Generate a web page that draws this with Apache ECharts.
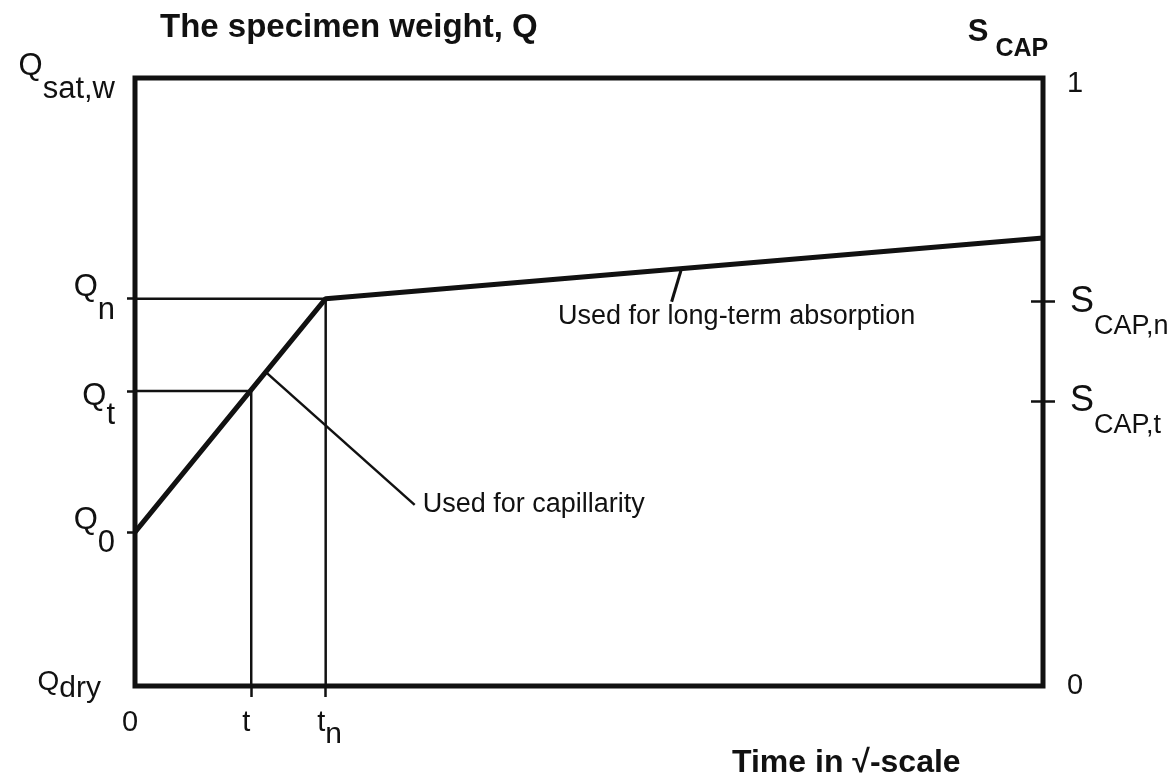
<!DOCTYPE html>
<html>
<head>
<meta charset="utf-8">
<script src="https://cdn.jsdelivr.net/npm/echarts@6/dist/echarts.min.js"></script>
<style>
html, body { margin: 0; padding: 0; background: #fff; }
#chart { width: 1175px; height: 781px; }
</style>
</head>
<body>
<div id="chart"></div>
<script>
// time axis (sqrt scale), 0..100
var timeTicks = [0, 12.8, 21.0];
var timeNames = ['0', 't', 'tn'];
// left axis: specimen weight Q
var weightTicks = [0, 25.3, 48.5, 63.7, 100];
var weightNames = ['dry', '0', 't', 'n', 'sat,w'];
// right axis: S_CAP
var capTicks = [0, 46.9, 63.2, 100];
var capNames = ['0', 't', 'n', '1'];

// curves
var absorption = [[0, 25.3], [21.0, 63.7], [100, 73.7]];
var guideN = [[0, 63.7], [21.0, 63.7], [21.0, 0]];
var guideT = [[0, 48.5], [12.8, 48.5], [12.8, 0]];
var capLeader = [[14.5, 51.5], [30.8, 29.8]];
var longLeader = [[60.2, 68.7], [59.1, 63.2]];

var FONT = 'Liberation Sans, Arial, Helvetica, sans-serif';
var INK = '#111';

function pick(ticks, names, v) {
  var best = 0;
  for (var i = 1; i < ticks.length; i++) {
    if (Math.abs(ticks[i] - v) < Math.abs(ticks[best] - v)) best = i;
  }
  return names[best];
}

function leaderData(points, label) {
  return points.map(function (p, i) {
    if (i < points.length - 1) return p;
    return { value: p, label: label };
  });
}

var myChart = echarts.init(document.getElementById('chart'));

var option = {
  animation: false,
  backgroundColor: '#fff',
  textStyle: { fontFamily: FONT, color: INK },
  title: [{
    text: 'The specimen weight, Q',
    left: 155,
    top: 6,
    textStyle: { fontFamily: FONT, fontSize: 33, fontWeight: 'bold', color: INK }
  }, {
    text: 'Time in \u221A-scale',
    left: 727,
    top: 742,
    textStyle: { fontFamily: FONT, fontSize: 32, fontWeight: 'bold', color: INK }
  }],
  grid: {
    left: 135, right: 132, top: 78, bottom: 95,
    show: true,
    borderColor: INK,
    borderWidth: 5,
    outerBoundsMode: 'none'
  },
  xAxis: {
    type: 'value',
    min: 0, max: 100,
    axisLine: { show: false },
    splitLine: { show: false },
    axisTick: {
      show: true,
      customValues: timeTicks.slice(1),
      length: 11,
      lineStyle: { color: INK, width: 2.5 }
    },
    axisLabel: {
      customValues: timeTicks,
      margin: 22,
      color: INK,
      fontFamily: FONT,
      formatter: function (v) {
        var name = pick(timeTicks, timeNames, v);
        if (name === 'tn') return '{tx|t}{nx|n}';
        return '{p|' + name + '}';
      },
      rich: {
        p: { fontSize: 29, fontFamily: FONT, color: INK, padding: [0, 10, 0, 0] },
        tx: { fontSize: 29, fontFamily: FONT, color: INK, verticalAlign: 'top', padding: [0, 0, 0, 8] },
        nx: { fontSize: 30, fontFamily: FONT, color: INK, verticalAlign: 'bottom', lineHeight: 42 }
      }
    }
  },
  yAxis: [{
    type: 'value',
    position: 'left',
    min: 0, max: 100,
    axisLine: { show: false },
    splitLine: { show: false },
    axisTick: {
      show: true,
      customValues: weightTicks.slice(1, 4),
      length: 8,
      lineStyle: { color: INK, width: 2.5 }
    },
    axisLabel: {
      customValues: weightTicks,
      margin: 20,
      color: INK,
      fontFamily: FONT,
      formatter: function (v) {
        var name = pick(weightTicks, weightNames, v);
        if (name === 'dry') return '{qd|Q}{sd|dry}';
        if (name === 't') return '{qb|Q}{sb|t}';
        return '{qa|Q}{sa|' + name + '}';
      },
      rich: {
        qa: { fontSize: 31, fontFamily: FONT, color: INK, verticalAlign: 'top' },
        sa: { fontSize: 31, fontFamily: FONT, color: INK, verticalAlign: 'bottom', lineHeight: 54 },
        qb: { fontSize: 31, fontFamily: FONT, color: INK, padding: [10, 0, 0, 0] },
        sb: { fontSize: 31, fontFamily: FONT, color: INK, verticalAlign: 'bottom', lineHeight: 80 },
        qd: { fontSize: 28, fontFamily: FONT, color: INK, verticalAlign: 'top' },
        sd: { fontSize: 30, fontFamily: FONT, color: INK, verticalAlign: 'bottom', lineHeight: 36, padding: [0, 14, 0, 0] }
      }
    }
  }, {
    type: 'value',
    position: 'right',
    min: 0, max: 100,
    name: '{s|S}{c| CAP}',
    nameLocation: 'end',
    nameGap: 16,
    nameTextStyle: {
      padding: [0, 70, 0, 0],
      rich: {
        s: { fontSize: 31, fontWeight: 'bold', fontFamily: FONT, color: INK, verticalAlign: 'top' },
        c: { fontSize: 25, fontWeight: 'bold', fontFamily: FONT, color: INK, verticalAlign: 'bottom', lineHeight: 45 }
      }
    },
    axisLine: { show: false },
    splitLine: { show: false },
    axisTick: {
      show: true,
      customValues: capTicks.slice(1, 3),
      length: 12,
      lineStyle: { color: INK, width: 2.5 }
    },
    axisLabel: {
      customValues: capTicks,
      margin: 24,
      color: INK,
      fontFamily: FONT,
      formatter: function (v) {
        var name = pick(capTicks, capNames, v);
        if (name === '1') return '{p1|1}';
        if (name === '0') return '{p|0}';
        return '{S|S}{c|CAP,' + name + '}';
      },
      rich: {
        p: { fontSize: 29, fontFamily: FONT, color: INK },
        p1: { fontSize: 29, fontFamily: FONT, color: INK, padding: [12, 0, 0, 0] },
        S: { fontSize: 36, fontFamily: FONT, color: INK, padding: [0, 0, 0, 3] },
        c: { fontSize: 27, fontFamily: FONT, color: INK, verticalAlign: 'bottom', lineHeight: 76 }
      }
    }
  }, {
    // inner half of the right-hand ticks
    type: 'value',
    position: 'right',
    min: 0, max: 100,
    axisLine: { show: false },
    splitLine: { show: false },
    axisLabel: { show: false },
    axisTick: {
      show: true,
      inside: true,
      customValues: capTicks.slice(1, 3),
      length: 12,
      lineStyle: { color: INK, width: 2.5 }
    }
  }],
  series: [{
    name: 'absorption',
    type: 'line',
    data: absorption,
    symbol: 'none',
    lineStyle: { color: INK, width: 5 },
    z: 5
  }, {
    name: 'guide n',
    type: 'line',
    data: guideN,
    symbol: 'none',
    lineStyle: { color: INK, width: 2.5 }
  }, {
    name: 'guide t',
    type: 'line',
    data: guideT,
    symbol: 'none',
    lineStyle: { color: INK, width: 2.5 }
  }, {
    name: 'capillarity',
    type: 'line',
    symbol: 'circle',
    symbolSize: 0,
    lineStyle: { color: INK, width: 2.5 },
    data: leaderData(capLeader, {
      show: true,
      position: 'right',
      distance: 8,
      formatter: 'Used for capillarity',
      fontSize: 27,
      fontFamily: FONT,
      color: INK
    })
  }, {
    name: 'long-term',
    type: 'line',
    symbol: 'circle',
    symbolSize: 0,
    lineStyle: { color: INK, width: 3 },
    data: leaderData(longLeader, {
      show: true,
      position: 'bottom',
      distance: 1,
      offset: [65, 0],
      formatter: 'Used for long-term absorption',
      fontSize: 27,
      fontFamily: FONT,
      color: INK
    })
  }]
};

myChart.setOption(option);
</script>
</body>
</html>
